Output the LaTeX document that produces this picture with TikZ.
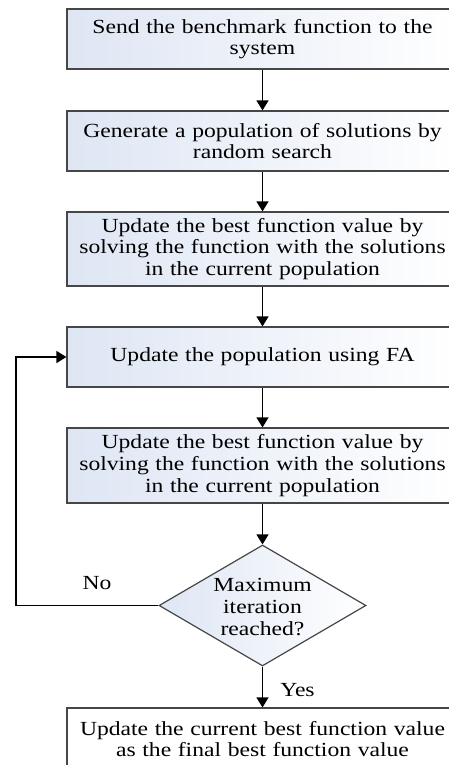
\documentclass[tikz,border=0pt]{standalone}
\usepackage{fontspec}
\setmainfont{Liberation Serif}[FakeStretch=1.18]
\usetikzlibrary{arrows.meta,shapes.geometric}
\definecolor{boxblue}{RGB}{222,230,244}
\definecolor{edgegray}{RGB}{70,70,70}
\begin{document}
\begin{tikzpicture}[x=1pt,y=-1pt,
  txt/.style={font=\fontsize{20}{21.7}\selectfont},
  box/.style={txt, draw=edgegray, line width=1.2pt, left color=boxblue, right color=white,
    minimum width=391pt, text width=385pt, align=center, inner sep=0pt},
  finbox/.style={txt, draw=edgegray, line width=1.2pt, fill=white,
    minimum width=391pt, text width=385pt, align=center, inner sep=0pt},
  dec/.style={diamond, draw=edgegray, line width=1.2pt, left color=boxblue, right color=white,
    minimum width=207pt, minimum height=121pt, inner sep=0pt},
  arr/.style={line width=1.4pt, -{Triangle[width=12pt,length=10pt]}},
  lbl/.style={txt, inner sep=0pt, align=center}]
\useasboundingbox (0,0) rectangle (449,765);
\clip (0,0) rectangle (449,765);
\node[box, minimum height=60pt] (b1) at (262.5,39) {Send the benchmark function to the\\system};
\node[box, minimum height=60pt] (b2) at (262.5,141) {Generate a population of solutions by\\random search};
\node[box, minimum height=74pt] (b3) at (262.5,249) {Update the best function value by\\solving the function with the solutions\\in the current population};
\node[box, minimum height=60pt] (b4) at (262.5,357) {Update the population using FA};
\node[box, minimum height=75pt] (b5) at (262.5,465.5) {Update the best function value by\\solving the function with the solutions\\in the current population};
\node[dec] (d) at (262.5,605.5) {};
\node[lbl] (dt) at (262.5,607) {Maximum\\iteration\\reached?};
\node[finbox, minimum height=62pt] (fin) at (262.5,739) {Update the current best function value\\as the final best function value};
\node[lbl] (no) at (97,583) {No};
\node[lbl] (yes) at (297.5,690) {Yes};
\coordinate (lp) at (16,605.5);
\draw[arr] (b1.south) -- (b2.north);
\draw[arr] (b2.south) -- (b3.north);
\draw[arr] (b3.south) -- (b4.north);
\draw[arr] (b4.south) -- (b5.north);
\draw[arr] (b5.south) -- (d.north);
\draw[arr] (d.south) -- (fin.north);
\draw[arr] (d.west) -- (lp) |- (b4.west);
\end{tikzpicture}
\end{document}
